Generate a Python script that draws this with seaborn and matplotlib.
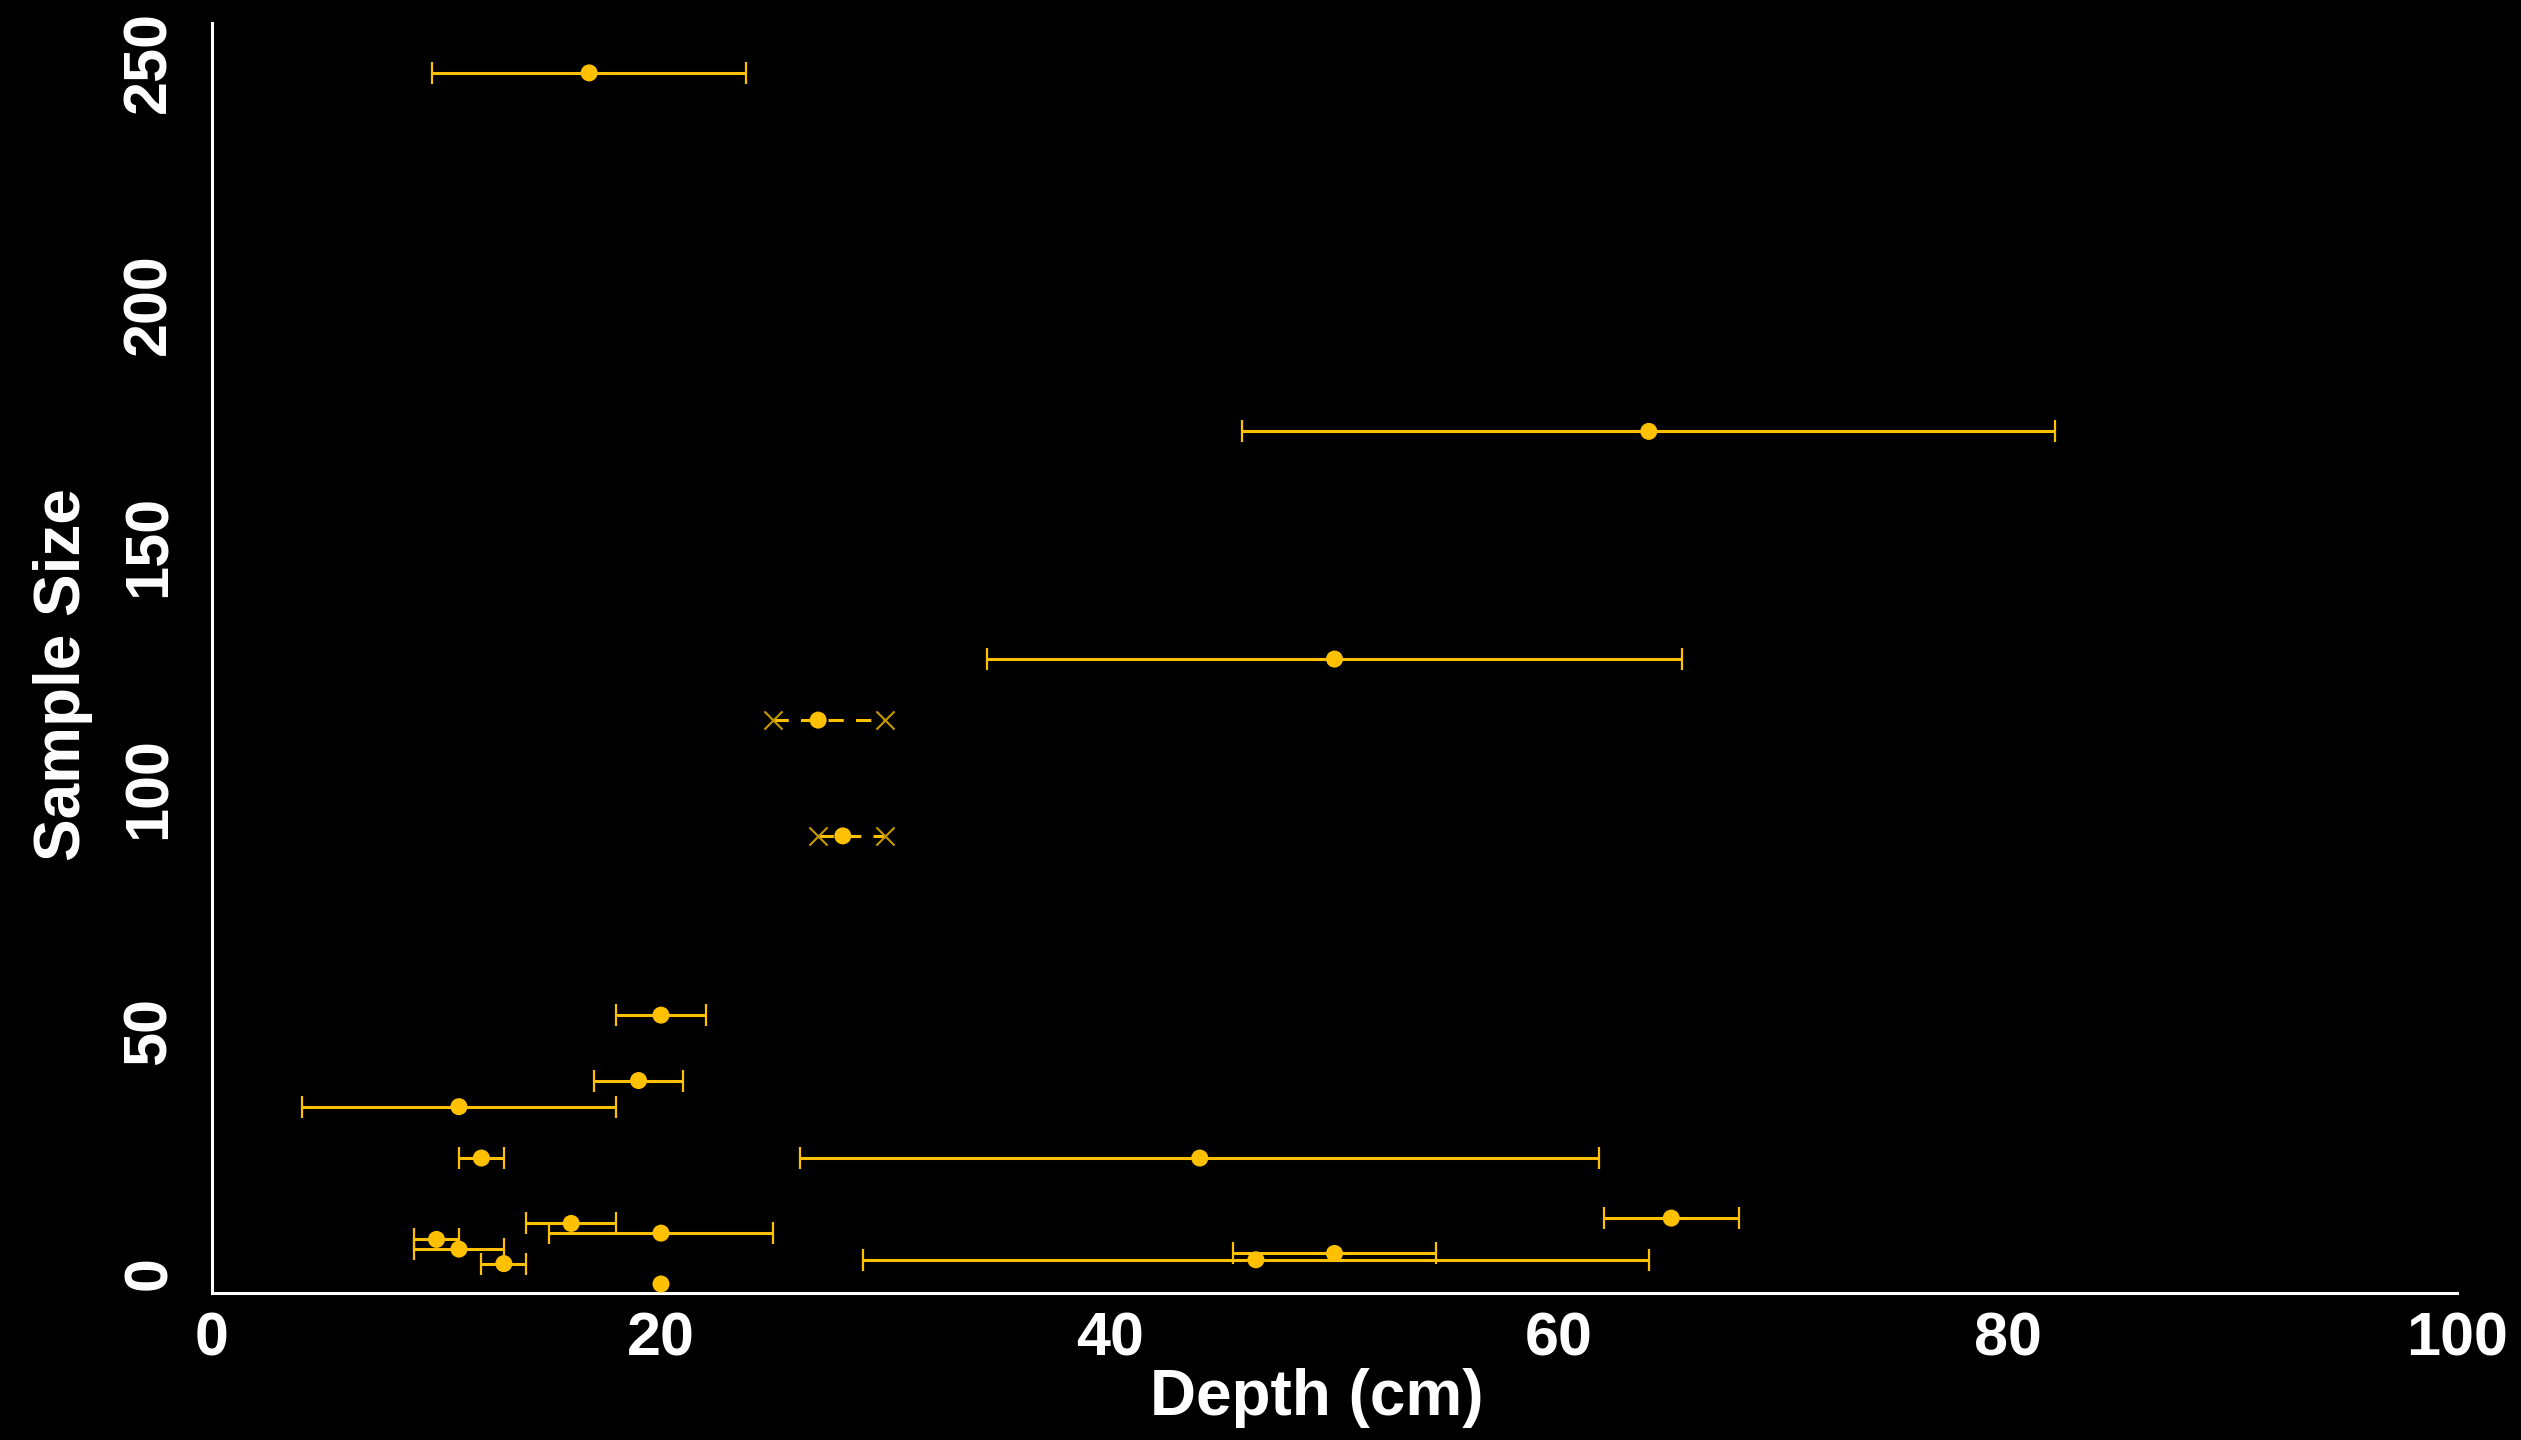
import numpy as np
import pandas as pd
import matplotlib
matplotlib.use("Agg")
import matplotlib.pyplot as plt
import matplotlib.transforms as mtransforms
import seaborn as sns

# ---- data ----
depth_mean = [16.8, 64.0, 50.0, 20.0, 19.0, 11.0, 12.0, 44.0, 16.0, 20.0,
              10.0, 11.0, 13.0, 20.0, 65.0, 50.0, 46.5]
depth_low = [9.8, 45.9, 34.5, 18.0, 17.0, 4.0, 11.0, 26.2, 14.0, 15.0,
             9.0, 9.0, 12.0, 20.0, 62.0, 45.5, 29.0]
depth_high = [23.8, 82.1, 65.5, 22.0, 21.0, 18.0, 13.0, 61.8, 18.0, 25.0,
              11.0, 13.0, 14.0, 20.0, 68.0, 54.5, 64.0]
sample_size = [250, 176, 129, 55.5, 42, 36.6, 26, 26, 12.5, 10.5,
               9.2, 7.2, 4.2, 0, 13.6, 6.3, 5.0]

# truncated ranges (dashed, with x end markers)
trunc_mean = [27.0, 28.1]
trunc_low = [25.0, 27.0]
trunc_high = [30.0, 30.0]
trunc_size = [116.4, 92.5]

x_ticks = [0, 20, 40, 60, 80, 100]
y_ticks = [0, 50, 100, 150, 200, 250]

GOLD = "#FFC000"

sns.set_theme(style="ticks")
plt.rcParams["font.family"] = ["Liberation Sans", "DejaVu Sans"]
plt.rcParams["font.weight"] = "bold"

fig = plt.figure(figsize=(25.21, 14.40), dpi=100, facecolor="black")
ax = fig.add_axes([0.08409, 0.10208, 0.89052, 0.88194])
ax.set_facecolor("black")

df = pd.DataFrame({"depth": depth_mean, "low": depth_low, "high": depth_high,
                   "n": sample_size})
err = df[df["high"] > df["low"]]
ax.errorbar(err["depth"], err["n"],
            xerr=[err["depth"] - err["low"], err["high"] - err["depth"]],
            fmt="none", ecolor=GOLD, elinewidth=2.2, capsize=8, capthick=1.6,
            zorder=2)

tdf = pd.DataFrame({"depth": trunc_mean, "low": trunc_low, "high": trunc_high,
                    "n": trunc_size})
for _, r in tdf.iterrows():
    ax.plot([r["low"], r["high"]], [r["n"], r["n"]], color=GOLD, lw=2.2,
            ls=(0, (5, 4)), zorder=2)
ends = pd.DataFrame({"x": list(tdf["low"]) + list(tdf["high"]),
                     "y": list(tdf["n"]) * 2})
sns.scatterplot(data=ends, x="x", y="y", marker="x", s=170, color="#C89A00",
                linewidth=1.5, ax=ax, zorder=3, legend=False)

sns.scatterplot(data=df, x="depth", y="n", s=150, color=GOLD, edgecolor="none",
                ax=ax, zorder=4, legend=False, clip_on=False)
sns.scatterplot(data=tdf, x="depth", y="n", s=150, color=GOLD, edgecolor="none",
                ax=ax, zorder=4, legend=False)

ax.set_xlim(0, 100)
ax.set_ylim(-1.86, 260.3)
ax.set_xticks(x_ticks)
ax.set_yticks(y_ticks)
ax.set_xticklabels([str(t) for t in x_ticks], fontsize=44, fontweight="bold",
                   color="white")
ax.set_yticklabels([str(t) for t in y_ticks], fontsize=44, fontweight="bold",
                   color="white", rotation=90, va="center")
ax.tick_params(axis="both", length=0)
ax.tick_params(axis="x", pad=13)
ax.tick_params(axis="y", pad=24)
shift = mtransforms.ScaledTranslation(0, 0.11, fig.dpi_scale_trans)
for lab in ax.get_yticklabels():
    lab.set_transform(lab.get_transform() + shift)

for side in ["top", "right"]:
    ax.spines[side].set_visible(False)
for side in ["left", "bottom"]:
    ax.spines[side].set_color("white")
    ax.spines[side].set_linewidth(2.2)

ax.set_xlabel("Depth (cm)", fontsize=46, fontweight="bold", color="white")
ax.set_ylabel("Sample Size", fontsize=46, fontweight="bold", color="white")
ax.xaxis.set_label_coords(0.492, -0.0591)
ax.yaxis.set_label_coords(-0.0532, 0.487)

fig.savefig("out.png", dpi=100, facecolor="black")
